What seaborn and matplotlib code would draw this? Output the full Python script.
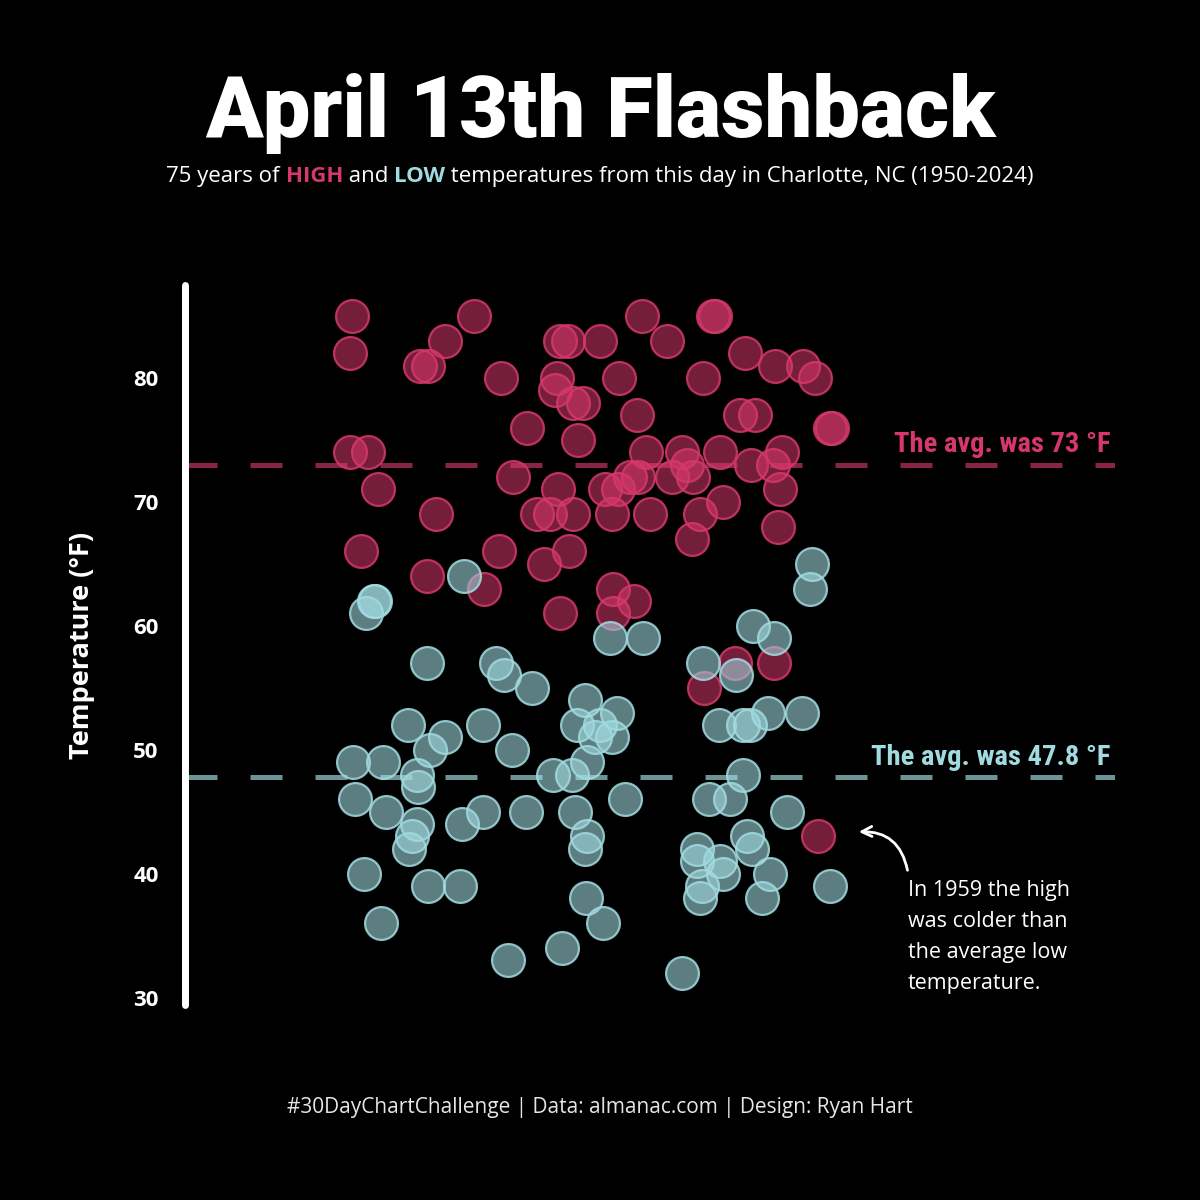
import matplotlib
matplotlib.use('Agg')
import matplotlib.pyplot as plt
import seaborn as sns
import pandas as pd

# jitter position (0-1 across the panel) and temperature for each year
high_x = [0.180, 0.177, 0.311, 0.280, 0.253, 0.261, 0.340, 0.403, 0.412, 0.400,
          0.398, 0.417, 0.428, 0.368, 0.423, 0.177, 0.197, 0.208, 0.270, 0.353,
          0.401, 0.378, 0.392, 0.417, 0.491, 0.568, 0.570, 0.446, 0.518, 0.602,
          0.634, 0.665, 0.677, 0.467, 0.557, 0.486, 0.597, 0.613, 0.694, 0.696,
          0.496, 0.534, 0.575, 0.642, 0.609, 0.632, 0.487, 0.478, 0.540, 0.546,
          0.524, 0.452, 0.466, 0.640, 0.459, 0.500, 0.554, 0.578, 0.638, 0.189,
          0.338, 0.413, 0.386, 0.260, 0.322, 0.403, 0.545, 0.460, 0.483, 0.460,
          0.591, 0.633, 0.558, 0.681]
high_t = [85, 82, 85, 83, 81, 81, 80, 83, 83, 80,
          79, 78, 78, 76, 75, 74, 74, 71, 69, 72,
          71, 69, 69, 69, 85, 85, 85, 83, 83, 82,
          81, 81, 80, 80, 80, 77, 77, 77, 76, 76,
          74, 74, 74, 74, 73, 73, 72, 72, 73, 72,
          72, 71, 71, 71, 69, 69, 69, 70, 68, 66,
          66, 66, 65, 64, 63, 61, 67, 63, 62, 61,
          57, 57, 55, 43]

low_x = [0.300, 0.203, 0.195, 0.260, 0.334, 0.343, 0.373, 0.240, 0.280, 0.263,
         0.320, 0.352, 0.181, 0.213, 0.430, 0.422, 0.446, 0.441, 0.459, 0.465,
         0.674, 0.672, 0.611, 0.633, 0.457, 0.492, 0.557, 0.592, 0.627, 0.663,
         0.574, 0.600, 0.608, 0.432, 0.249, 0.251, 0.183, 0.216, 0.249, 0.244,
         0.241, 0.298, 0.320, 0.367, 0.396, 0.416, 0.419, 0.430, 0.432, 0.192,
         0.261, 0.296, 0.211, 0.347, 0.405, 0.431, 0.600, 0.563, 0.586, 0.473,
         0.647, 0.694, 0.604, 0.610, 0.629, 0.620, 0.551, 0.551, 0.575, 0.578,
         0.556, 0.554, 0.534, 0.449, 0.204]
low_t = [64, 62, 61, 57, 57, 56, 55, 52, 51, 50,
         52, 50, 49, 49, 54, 52, 52, 51, 51, 53,
         65, 63, 60, 59, 59, 59, 57, 56, 53, 53,
         52, 52, 52, 49, 48, 47, 46, 45, 44, 43,
         42, 44, 45, 45, 48, 48, 45, 42, 43, 40,
         39, 39, 36, 33, 34, 38, 48, 46, 46, 46,
         45, 39, 43, 42, 40, 38, 42, 41, 41, 40,
         39, 38, 32, 36, 62]

avg_high = 73
avg_low = 47.8
yticks = [30, 40, 50, 60, 70, 80]

RED = (0.84, 0.22, 0.42)
TEAL = (0.63, 0.86, 0.88)

df = pd.concat([
    pd.DataFrame({'pos': high_x, 'temp': high_t, 'kind': 'HIGH'}),
    pd.DataFrame({'pos': low_x, 'temp': low_t, 'kind': 'LOW'}),
])

sns.set_style('dark')
plt.rcParams['font.family'] = ['Open Sans', 'DejaVu Sans']

fig = plt.figure(figsize=(12, 12), dpi=100, facecolor='black')
ax = fig.add_axes([185 / 1200, 1 - 1005 / 1200, 930 / 1200, 720 / 1200])
ax.set_facecolor('black')

for kind, col, fa in [('HIGH', RED, 0.55), ('LOW', TEAL, 0.58)]:
    sub = df[df['kind'] == kind]
    sns.scatterplot(data=sub, x='pos', y='temp', color=col, s=560,
                    linewidth=1.6, ax=ax, legend=False, zorder=3)
    coll = ax.collections[-1]
    coll.set_facecolor((*col, fa))
    coll.set_edgecolor((*col, 0.85))

# average lines
ax.axhline(avg_high, color=RED, alpha=0.65, lw=3.6, dashes=(6.4, 6.6), zorder=2)
ax.axhline(avg_low, color=TEAL, alpha=0.68, lw=3.6, dashes=(6.4, 6.6), zorder=2)
cond = ['Roboto Condensed', 'Roboto', 'DejaVu Sans']
ax.text(0.995, avg_high + 0.5, f'The avg. was {avg_high} °F', color=RED,
        ha='right', va='bottom', fontsize=20.5, fontweight='bold', family=cond,
        transform=ax.get_yaxis_transform())
ax.text(0.995, avg_low + 0.5, f'The avg. was {avg_low} °F', color=TEAL,
        ha='right', va='bottom', fontsize=20.5, fontweight='bold', family=cond,
        transform=ax.get_yaxis_transform())

ax.set_xlim(0, 1)
ax.set_ylim(29.4, 87.5)
ax.set_xticks([])
ax.set_yticks(yticks)
ax.tick_params(axis='y', length=0, pad=19, labelcolor='white', labelsize=16)
for lab in ax.get_yticklabels():
    lab.set_fontweight('bold')
ax.set_xlabel('')
ax.set_ylabel('Temperature (°F)', color='white', fontsize=19.5, fontweight='bold')
ax.yaxis.set_label_coords(-0.097, 0.5)
ax.grid(False)
for side in ['top', 'right', 'bottom']:
    ax.spines[side].set_visible(False)
ax.spines['left'].set_color('white')
ax.spines['left'].set_linewidth(5)
ax.spines['left'].set_capstyle('round')

# title
fig.text(0.5, 1 - 113 / 1200, 'April 13th Flashback', color='white', ha='center',
         va='center', fontsize=61, fontweight='black', family=['Roboto', 'DejaVu Sans'])

# subtitle with coloured words
pieces = [('75 years of ', 'white', 'normal'), ('HIGH', RED, 'bold'),
          (' and ', 'white', 'normal'), ('LOW', TEAL, 'bold'),
          (' temperatures from this day in Charlotte, NC (1950-2024)', 'white', 'normal')]
renderer = fig.canvas.get_renderer()
texts = []
for s, c, w in pieces:
    t = fig.text(0, 1 - 176 / 1200, s, color=c, fontweight=w, fontsize=16,
                 va='center', ha='left')
    texts.append(t)
widths = [t.get_window_extent(renderer).width for t in texts]
x0 = 600 - sum(widths) / 2
for t, w in zip(texts, widths):
    t.set_x(x0 / 1200)
    x0 += w

# annotation
fig.text(908 / 1200, 1 - 880 / 1200,
         'In 1959 the high\nwas colder than\nthe average low\ntemperature.',
         color='white', fontsize=15.5, va='top', ha='left', linespacing=1.62)
ax.annotate('', xy=(856, 1200 - 832), xycoords='figure pixels',
            xytext=(908, 1200 - 873), textcoords='figure pixels',
            arrowprops=dict(arrowstyle='->', color='white', lw=2,
                            connectionstyle='arc3,rad=0.45', mutation_scale=18))

fig.text(0.5, 1 - 1108 / 1200,
         '#30DayChartChallenge | Data: almanac.com | Design: Ryan Hart',
         color='#e6e6e6', fontsize=15, ha='center', va='center')

fig.savefig('out.png', dpi=100, facecolor='black')
